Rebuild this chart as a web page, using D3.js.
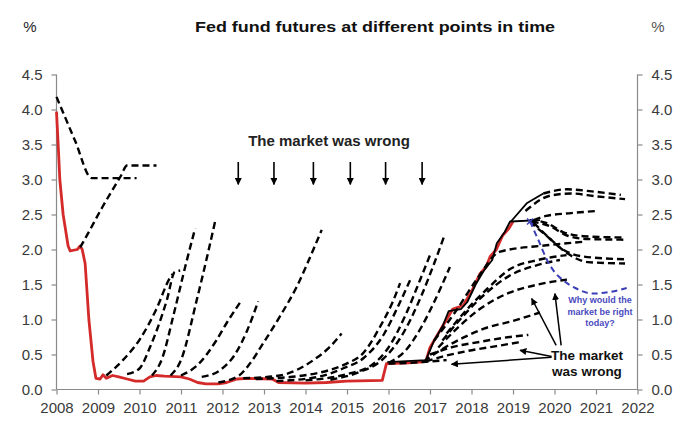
<!DOCTYPE html>
<html><head><meta charset="utf-8">
<script src="https://cdn.jsdelivr.net/npm/d3@7"></script>
<style>body{margin:0;background:#fff}svg{display:block}</style>
</head><body>
<svg id="chart" width="693" height="425"></svg>
<script>
// ---------- data ----------
const xTickYears = [2008,2009,2010,2011,2012,2013,2014,2015,2016,2017,2018,2019,2020,2021,2022];
const yTickValues = [0,0.5,1,1.5,2,2.5,3,3.5,4,4.5];

const fedFundsRate = [[2008.0,3.97],[2008.04,3.5],[2008.08,3.0],[2008.16,2.5],[2008.28,2.05],[2008.33,1.98],[2008.5,2.0],[2008.57,2.05],[2008.62,2.0],[2008.69,1.8],[2008.78,1.0],[2008.88,0.4],[2008.95,0.16],[2009.05,0.15],[2009.12,0.21],[2009.2,0.16],[2009.35,0.2],[2009.5,0.18],[2009.7,0.15],[2009.9,0.12],[2010.1,0.12],[2010.25,0.18],[2010.4,0.2],[2010.6,0.19],[2011.0,0.18],[2011.2,0.15],[2011.4,0.1],[2011.6,0.08],[2011.9,0.08],[2012.1,0.1],[2012.35,0.15],[2012.6,0.16],[2013.2,0.15],[2013.35,0.1],[2014.0,0.09],[2014.5,0.1],[2015.0,0.12],[2015.85,0.13],[2015.95,0.37],[2016.5,0.38],[2016.9,0.4],[2017.0,0.6],[2017.2,0.8],[2017.4,1.0],[2017.55,1.15],[2017.8,1.2],[2018.0,1.4],[2018.2,1.65],[2018.35,1.75],[2018.45,1.9],[2018.6,2.0],[2018.75,2.2],[2018.9,2.3],[2019.0,2.4]];

const solidFutures = [[2015.97,0.39],[2016.9,0.42],[2017.0,0.56],[2017.1,0.7],[2017.3,0.9],[2017.45,1.12],[2017.75,1.15],[2017.9,1.25],[2018.1,1.5],[2018.3,1.7],[2018.5,1.85],[2018.61,2.09],[2018.8,2.25],[2018.93,2.4],[2019.65,2.42]];
const solidFuturesBranch = [[2018.95,2.4],[2019.33,2.66],[2019.73,2.8]];

const futuresCurves = [
  [[2008.0,4.18],[2008.2,3.9],[2008.45,3.55],[2008.85,3.02],[2009.93,3.02]],
  [[2008.57,2.03],[2008.75,2.22],[2009.1,2.6],[2009.55,3.05],[2009.7,3.2],[2010.41,3.2]],
  [[2009.2,0.2],[2009.6,0.42],[2010.0,0.71],[2010.4,1.14],[2010.73,1.59],[2010.8,1.65]],
  [[2009.7,0.22],[2010.0,0.3],[2010.25,0.6],[2010.66,1.28],[2010.85,1.68],[2010.98,1.7]],
  [[2010.3,0.2],[2010.55,0.45],[2010.81,1.04],[2011.1,1.75],[2011.34,2.3]],
  [[2010.75,0.2],[2011.0,0.42],[2011.38,1.28],[2011.65,1.95],[2011.84,2.45]],
  [[2011.0,0.2],[2011.4,0.35],[2011.85,0.7],[2012.1,0.95],[2012.42,1.24]],
  [[2011.5,0.18],[2011.95,0.28],[2012.3,0.5],[2012.6,0.85],[2012.86,1.26]],
  [[2011.9,0.1],[2012.4,0.2],[2012.66,0.37],[2012.98,0.66],[2013.38,1.04],[2013.79,1.47],[2014.19,2.0],[2014.39,2.28]],
  [[2012.5,0.16],[2013.38,0.2],[2013.79,0.28],[2014.19,0.42],[2014.59,0.61],[2014.87,0.8]],
  [[2012.8,0.15],[2013.95,0.2],[2014.59,0.28],[2014.99,0.37],[2015.39,0.52],[2015.8,0.9],[2016.1,1.25],[2016.28,1.52]],
  [[2013.3,0.12],[2014.3,0.18],[2014.9,0.3],[2015.4,0.45],[2015.9,0.8],[2016.2,1.15],[2016.52,1.56]],
  [[2014.0,0.13],[2015.0,0.22],[2015.6,0.35],[2016.0,0.6],[2016.4,1.05],[2016.75,1.55],[2017.0,1.92]],
  [[2014.6,0.14],[2015.3,0.25],[2015.8,0.4],[2016.3,0.75],[2016.8,1.35],[2017.1,1.8],[2017.36,2.22]],
  [[2016.0,0.38],[2016.4,0.55],[2016.8,0.9],[2017.1,1.25],[2017.48,1.75]],
  [[2016.0,0.37],[2016.5,0.38],[2017.0,0.4],[2017.4,0.42]],
  [[2016.9,0.4],[2017.3,0.47],[2017.9,0.55],[2018.6,0.62],[2019.2,0.68]],
  [[2017.0,0.5],[2017.5,0.6],[2018.2,0.68],[2018.8,0.74],[2019.37,0.78]],
  [[2016.85,0.4],[2017.3,0.58],[2017.8,0.74],[2018.3,0.87],[2019.0,0.98],[2019.65,1.1]],
  [[2017.2,0.6],[2017.7,0.9],[2018.2,1.15],[2018.9,1.38],[2019.6,1.5],[2020.3,1.57]],
  [[2017.3,0.7],[2017.8,1.05],[2018.3,1.35],[2018.9,1.62],[2019.6,1.78],[2020.13,1.85]],
  [[2017.4,0.8],[2017.9,1.15],[2018.4,1.45],[2018.93,1.72],[2019.6,1.85],[2020.29,1.92]],
  [[2017.1,0.7],[2017.6,1.1],[2018.1,1.55],[2018.69,1.97],[2019.81,2.06],[2020.69,2.11]],
  [[2019.73,2.8],[2020.3,2.86],[2020.9,2.83],[2021.6,2.78]],
  [[2019.3,2.55],[2019.9,2.77],[2020.4,2.8],[2021.0,2.76],[2021.7,2.72]],
  [[2019.5,2.42],[2019.8,2.48],[2020.4,2.52],[2021.0,2.55]],
  [[2019.4,2.42],[2019.8,2.38],[2020.2,2.25],[2020.7,2.19],[2021.7,2.17]],
  [[2019.45,2.4],[2019.9,2.33],[2020.3,2.2],[2020.8,2.15],[2021.7,2.14]],
  [[2019.4,2.4],[2019.8,2.2],[2020.2,2.0],[2020.7,1.9],[2021.7,1.86]],
  [[2019.5,2.38],[2019.9,2.15],[2020.3,1.95],[2020.8,1.82],[2021.7,1.8]]
];

const blueScenario = [[2019.41,2.4],[2019.6,2.15],[2019.82,1.85],[2020.0,1.68],[2020.21,1.56],[2020.5,1.45],[2020.93,1.37],[2021.3,1.39],[2021.74,1.45]];

const topArrowYears = [2012.38,2013.24,2014.19,2015.08,2015.93,2016.81];
// annotation arrows: [fromYear, fromValue, toYear, toValue]
const bottomArrows = [
  [2019.93,0.46,2017.52,0.36],
  [2019.93,0.47,2019.17,0.56],
  [2020.04,0.63,2019.45,1.3],
  [2020.16,0.63,2020.01,1.37]
];

const titleText = "Fed fund futures at different points in time";
const topNote = "The market was wrong";
const blueNote = ["Why would the","market be right","today?"];
const bottomNote = ["The market","was wrong"];

// ---------- drawing ----------
const svg = d3.select("#chart");
const x = d3.scaleLinear().domain([2008,2022]).range([56.5,637.5]);
const y = d3.scaleLinear().domain([0,4.5]).range([389.5,74.5]);
const font = "'Liberation Sans', Arial, sans-serif";

const defs = svg.append("defs");
defs.append("marker").attr("id","ah").attr("viewBox","0 0 10 10").attr("refX",9).attr("refY",5)
  .attr("markerWidth",7).attr("markerHeight",7).attr("markerUnits","userSpaceOnUse").attr("orient","auto")
  .append("path").attr("d","M0,0 L10,5 L0,10 z").attr("fill","#000");

// axes
const axisColor = "#8a8a8a";
const gL = svg.append("g").attr("transform",`translate(${x(2008)},0)`)
  .call(d3.axisLeft(y).tickValues(yTickValues).tickFormat(d3.format(".1f")).tickSize(5).tickPadding(9));
const gR = svg.append("g").attr("transform",`translate(${x(2022)},0)`)
  .call(d3.axisRight(y).tickValues(yTickValues).tickFormat(d3.format(".1f")).tickSize(5).tickPadding(9));
const gB = svg.append("g").attr("transform",`translate(0,${y(0)})`)
  .call(d3.axisBottom(x).tickValues(xTickYears).tickFormat(d3.format("d")).tickSize(5).tickPadding(8));
[gL,gR,gB].forEach(g=>{
  g.select(".domain").attr("stroke",axisColor).attr("stroke-width",1.2);
  g.selectAll(".tick line").attr("stroke",axisColor).attr("stroke-width",1.2);
  g.selectAll(".tick text").attr("fill","#3a3a3a").style("font-family",font).style("font-size","15px");
});
gL.select(".domain").attr("d",`M0,${y(4.5)}V${y(0)}`);
gR.select(".domain").attr("d",`M0,${y(4.5)}V${y(0)}`);
gB.select(".domain").attr("d",`M${x(2008)},0H${x(2022)}`);

// titles
svg.append("text").attr("x",375).attr("y",32).attr("text-anchor","middle")
  .style("font-family",font).style("font-size","15.5px").style("font-weight","bold").attr("fill","#111")
  .attr("textLength",360).attr("lengthAdjust","spacingAndGlyphs").text(titleText);
svg.append("text").attr("x",30).attr("y",32).attr("text-anchor","middle")
  .style("font-family",font).style("font-size","15px").attr("fill","#222").text("%");
svg.append("text").attr("x",658).attr("y",32).attr("text-anchor","middle")
  .style("font-family",font).style("font-size","15px").attr("fill","#555").text("%");

const lineLin = d3.line().x(d=>x(d[0])).y(d=>y(d[1]));
const lineSmooth = d3.line().x(d=>x(d[0])).y(d=>y(d[1])).curve(d3.curveMonotoneX);

// red fed funds (under the futures)
svg.append("path").datum(fedFundsRate).attr("d",lineLin).attr("fill","none")
  .attr("stroke","#d42a2a").attr("stroke-width",2.8).attr("stroke-linejoin","round");

// dashed futures curves
svg.append("g").selectAll("path").data(futuresCurves).join("path")
  .attr("d",lineSmooth).attr("fill","none").attr("stroke","#000")
  .attr("stroke-width",2.4).attr("stroke-dasharray","7,4");

// solid futures
[solidFutures, solidFuturesBranch].forEach(s=>{
  svg.append("path").datum(s).attr("d",lineLin).attr("fill","none")
    .attr("stroke","#000").attr("stroke-width",1.8).attr("stroke-linejoin","round");
});

// blue scenario
svg.append("path").datum(blueScenario).attr("d",lineSmooth).attr("fill","none")
  .attr("stroke","#3b3fb5").attr("stroke-width",2).attr("stroke-dasharray","6,4");
svg.append("path").attr("d",`M${x(blueScenario[0][0])-3},${y(blueScenario[0][1])-3}l6,6m0,-6l-6,6`)
  .attr("stroke","#3b3fb5").attr("stroke-width",1.5);

// top annotation
svg.append("text").attr("x",329).attr("y",146).attr("text-anchor","middle")
  .style("font-family",font).style("font-size","15px").style("font-weight","bold").attr("fill","#222").text(topNote);
svg.append("g").selectAll("line").data(topArrowYears).join("line")
  .attr("x1",d=>x(d)).attr("x2",d=>x(d)).attr("y1",y(3.25)).attr("y2",y(2.93))
  .attr("stroke","#000").attr("stroke-width",1.6).attr("marker-end","url(#ah)");

// bottom annotation arrows
svg.append("g").selectAll("line").data(bottomArrows).join("line")
  .attr("x1",d=>x(d[0])).attr("y1",d=>y(d[1])).attr("x2",d=>x(d[2])).attr("y2",d=>y(d[3]))
  .attr("stroke","#000").attr("stroke-width",1.5).attr("marker-end","url(#ah)");

svg.append("text").attr("x",587).attr("text-anchor","middle")
  .style("font-family",font).style("font-size","13.5px").style("font-weight","bold").attr("fill","#111")
  .selectAll("tspan").data(bottomNote).join("tspan").attr("x",587).attr("y",(d,i)=>360+i*15.5).text(d=>d);

svg.append("text").attr("text-anchor","middle")
  .style("font-family",font).style("font-size","9px").style("font-weight","bold").attr("fill","#4a4ac0")
  .selectAll("tspan").data(blueNote).join("tspan").attr("x",600).attr("y",(d,i)=>303+i*11.7).text(d=>d);
</script>
</body></html>
